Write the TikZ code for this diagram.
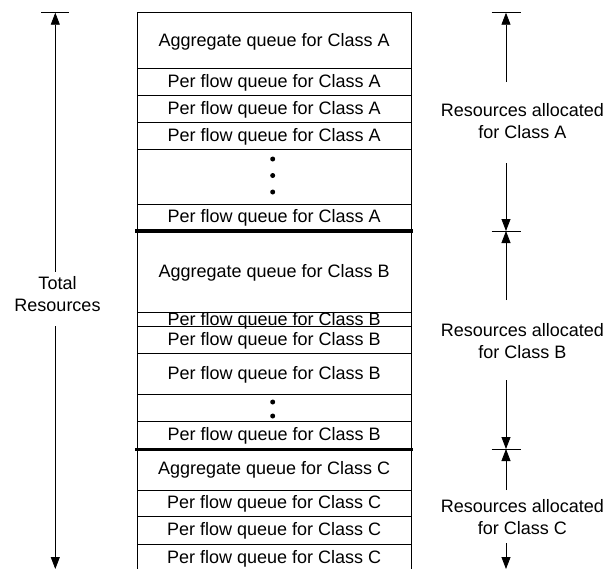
\documentclass[tikz,border=0pt]{standalone}
\usepackage{fontspec}
\setmainfont{Liberation Sans}
\usetikzlibrary{arrows.meta}
\begin{document}
\begin{tikzpicture}[x=1pt,y=-1pt,
  every node/.style={font=\fontsize{18}{22}\selectfont},
  row/.style={draw, line width=0.8pt, minimum width=273.7pt, inner sep=0pt, text height=13pt, text depth=2pt},
  dotm/.style={circle, fill, inner sep=0pt, minimum size=5pt},
  sep/.style={line width=3.2pt},
  arr/.style={line width=0.8pt, -{Triangle[length=12pt,width=9pt]}},
  bar/.style={line width=0.8pt},
  lab/.style={align=center, inner sep=0pt}]
\clip (0,0) rectangle (616,568);
% Class A
\node[row, minimum height=55.6pt] (aggA) at (274.15,40.5) {Aggregate queue for Class A};
\node[row, minimum height=27.4pt] (pA1) at (274.15,82) {Per flow queue for Class A};
\node[row, minimum height=27pt] (pA2) at (274.15,109.2) {Per flow queue for Class A};
\node[row, minimum height=26.6pt] (pA3) at (274.15,136) {Per flow queue for Class A};
\node[row, minimum height=55pt] (dA) at (274.15,176.8) {};
\node[row, minimum height=26.2pt] (pA4) at (274.15,217.4) {Per flow queue for Class A};
% Class B
\node[row, minimum height=82.2pt] (aggB) at (274.15,271.6) {Aggregate queue for Class B};
\node[row, minimum height=13.3pt, text depth=0pt] (pB1) at (274.15,319.35) {Per flow queue for Class B};
\node[row, minimum height=27pt] (pB2) at (274.15,339.5) {Per flow queue for Class B};
\node[row, minimum height=41pt] (pB3) at (274.15,373.5) {Per flow queue for Class B};
\node[row, minimum height=27.7pt] (dB) at (274.15,407.85) {};
\node[row, minimum height=27pt] (pB4) at (274.15,435.2) {Per flow queue for Class B};
% Class C
\node[row, minimum height=41.3pt] (aggC) at (274.15,469.35) {Aggregate queue for Class C};
\node[row, minimum height=26.7pt] (pC1) at (274.15,503.35) {Per flow queue for Class C};
\node[row, minimum height=27.3pt] (pC2) at (274.15,530.35) {Per flow queue for Class C};
\node[row, minimum height=28pt] (pC3) at (274.15,558) {Per flow queue for Class C};
% dots
\node[dotm] (dA1) at (272.7,159) {};
\node[dotm] (dA2) at (272.7,175.5) {};
\node[dotm] (dA3) at (272.7,192) {};
\node[dotm] (dB1) at (272.7,402) {};
\node[dotm] (dB2) at (272.7,416) {};
% thick separators
\draw[sep] ([xshift=-1.5pt]pA4.south west) -- ([xshift=1.5pt]pA4.south east);
\draw[sep] ([xshift=-1.5pt]pB4.south west) -- ([xshift=1.5pt]pB4.south east);
% left total arrow
\node[lab] (tot) at (57.5,294) {Total\\Resources};
\coordinate (Ltop) at (55.3,12.7);
\coordinate (L1) at (55.3,271.7);
\coordinate (L2) at (55.3,326);
\coordinate (Lbot) at (55.3,569);
\draw[bar] ([xshift=-14pt]Ltop) -- ([xshift=14pt]Ltop);
\draw[arr] (L1) -- (Ltop);
\draw[arr] (L2) -- (Lbot);
% right arrows
\node[lab] (labA) at (522.3,121.5) {Resources allocated\\for Class A};
\node[lab] (labB) at (522.3,341) {Resources allocated\\for Class B};
\node[lab] (labC) at (522.3,516.7) {Resources allocated\\for Class C};
\coordinate (RA) at (506,12.7);
\coordinate (RAB) at (506,231);
\coordinate (RBC) at (506,449);
\coordinate (a1) at (506,82);
\coordinate (a2) at (506,163);
\coordinate (b1) at (506,300);
\coordinate (b2) at (506,380);
\coordinate (c1) at (506,490);
\coordinate (c2) at (506,543);
\coordinate (cend) at (506,569);
\draw[bar] ([xshift=-14.5pt]RA) -- ([xshift=14.5pt]RA);
\draw[bar] ([xshift=-14.5pt]RAB) -- ([xshift=14.5pt]RAB);
\draw[bar] ([xshift=-14.5pt]RBC) -- ([xshift=14.5pt]RBC);
\draw[arr] (a1) -- (RA);
\draw[arr] (a2) -- (RAB);
\draw[arr] (b1) -- (RAB);
\draw[arr] (b2) -- (RBC);
\draw[arr] (c1) -- (RBC);
\draw[arr] (c2) -- (cend);
\end{tikzpicture}
\end{document}
